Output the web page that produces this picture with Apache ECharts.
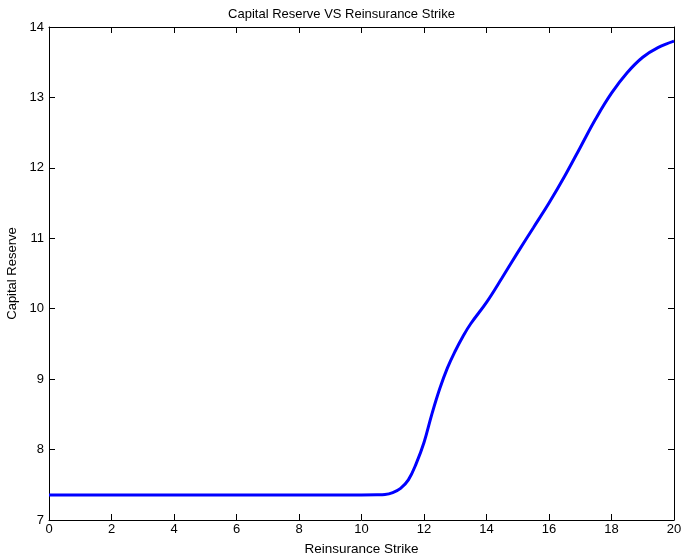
<!DOCTYPE html>
<html>
<head>
<meta charset="utf-8">
<script src="https://cdn.jsdelivr.net/npm/echarts@6/dist/echarts.min.js"></script>
<style>
  html, body { margin: 0; padding: 0; background: #fff; }
  #chart { width: 683px; height: 557px; }
</style>
</head>
<body>
<div id="chart"></div>
<script>
// Reinsurance strike (x) and the resulting capital reserve (y)
const strike = [0, 1, 2, 3, 4, 5, 6, 7, 8, 9, 10, 10.5, 10.75, 11, 11.25, 11.5, 11.75, 12,
  12.25, 12.5, 12.75, 13, 13.25, 13.5, 14, 14.5, 15, 15.5, 16, 16.5, 17, 17.5, 18,
  18.5, 19, 19.5, 20];
const reserve = [7.355, 7.355, 7.355, 7.355, 7.355, 7.355, 7.355, 7.355, 7.355, 7.355, 7.355, 7.357, 7.362, 7.39, 7.45, 7.57, 7.8, 8.1,
  8.5, 8.86, 9.16, 9.4, 9.61, 9.79, 10.09, 10.44, 10.8, 11.15, 11.5, 11.88, 12.29, 12.7, 13.06,
  13.35, 13.57, 13.71, 13.8];

const xTicks = { min: 0, max: 20, interval: 2 };
const yTicks = { min: 7, max: 14, interval: 1 };

const font = 'Liberation Sans, Arial, sans-serif';

const chart = echarts.init(document.getElementById('chart'));

function axisBase(extra) {
  return Object.assign({
    type: 'value',
    axisLine: { show: true, onZero: false, lineStyle: { color: '#000', width: 1 } },
    axisTick: { show: true, inside: true, length: 6, lineStyle: { color: '#000', width: 1 } },
    splitLine: { show: false }
  }, extra);
}

chart.setOption({
  animation: false,
  backgroundColor: '#fff',
  title: {
    text: 'Capital Reserve VS Reinsurance Strike',
    left: 'center',
    top: 3,
    textStyle: { fontFamily: font, fontSize: 13, fontWeight: 'normal', color: '#000' }
  },
  grid: { left: 49, right: 9, top: 27, bottom: 37, containLabel: false, outerBoundsMode: 'none' },
  xAxis: [
    axisBase(Object.assign({
      position: 'bottom',
      name: 'Reinsurance Strike',
      nameLocation: 'middle',
      nameGap: 22,
      nameTextStyle: { fontFamily: font, fontSize: 13.5, color: '#000' },
      axisLabel: { fontFamily: font, fontSize: 13, color: '#000', margin: 3 }
    }, xTicks)),
    axisBase(Object.assign({
      position: 'top',
      axisLabel: { show: false }
    }, xTicks))
  ],
  yAxis: [
    axisBase(Object.assign({
      position: 'left',
      name: 'Capital Reserve',
      nameLocation: 'middle',
      nameGap: 27,
      nameTextStyle: { fontFamily: font, fontSize: 13, color: '#000' },
      axisLabel: { fontFamily: font, fontSize: 13, color: '#000', margin: 5 }
    }, yTicks)),
    axisBase(Object.assign({
      position: 'right',
      axisLabel: { show: false }
    }, yTicks))
  ],
  series: [{
    type: 'line',
    data: strike.map((s, i) => [s, reserve[i]]),
    xAxisIndex: 0,
    yAxisIndex: 0,
    showSymbol: false,
    smooth: 0.4,
    lineStyle: { color: '#0000ff', width: 3 },
    clip: true
  }]
});
</script>
</body>
</html>
